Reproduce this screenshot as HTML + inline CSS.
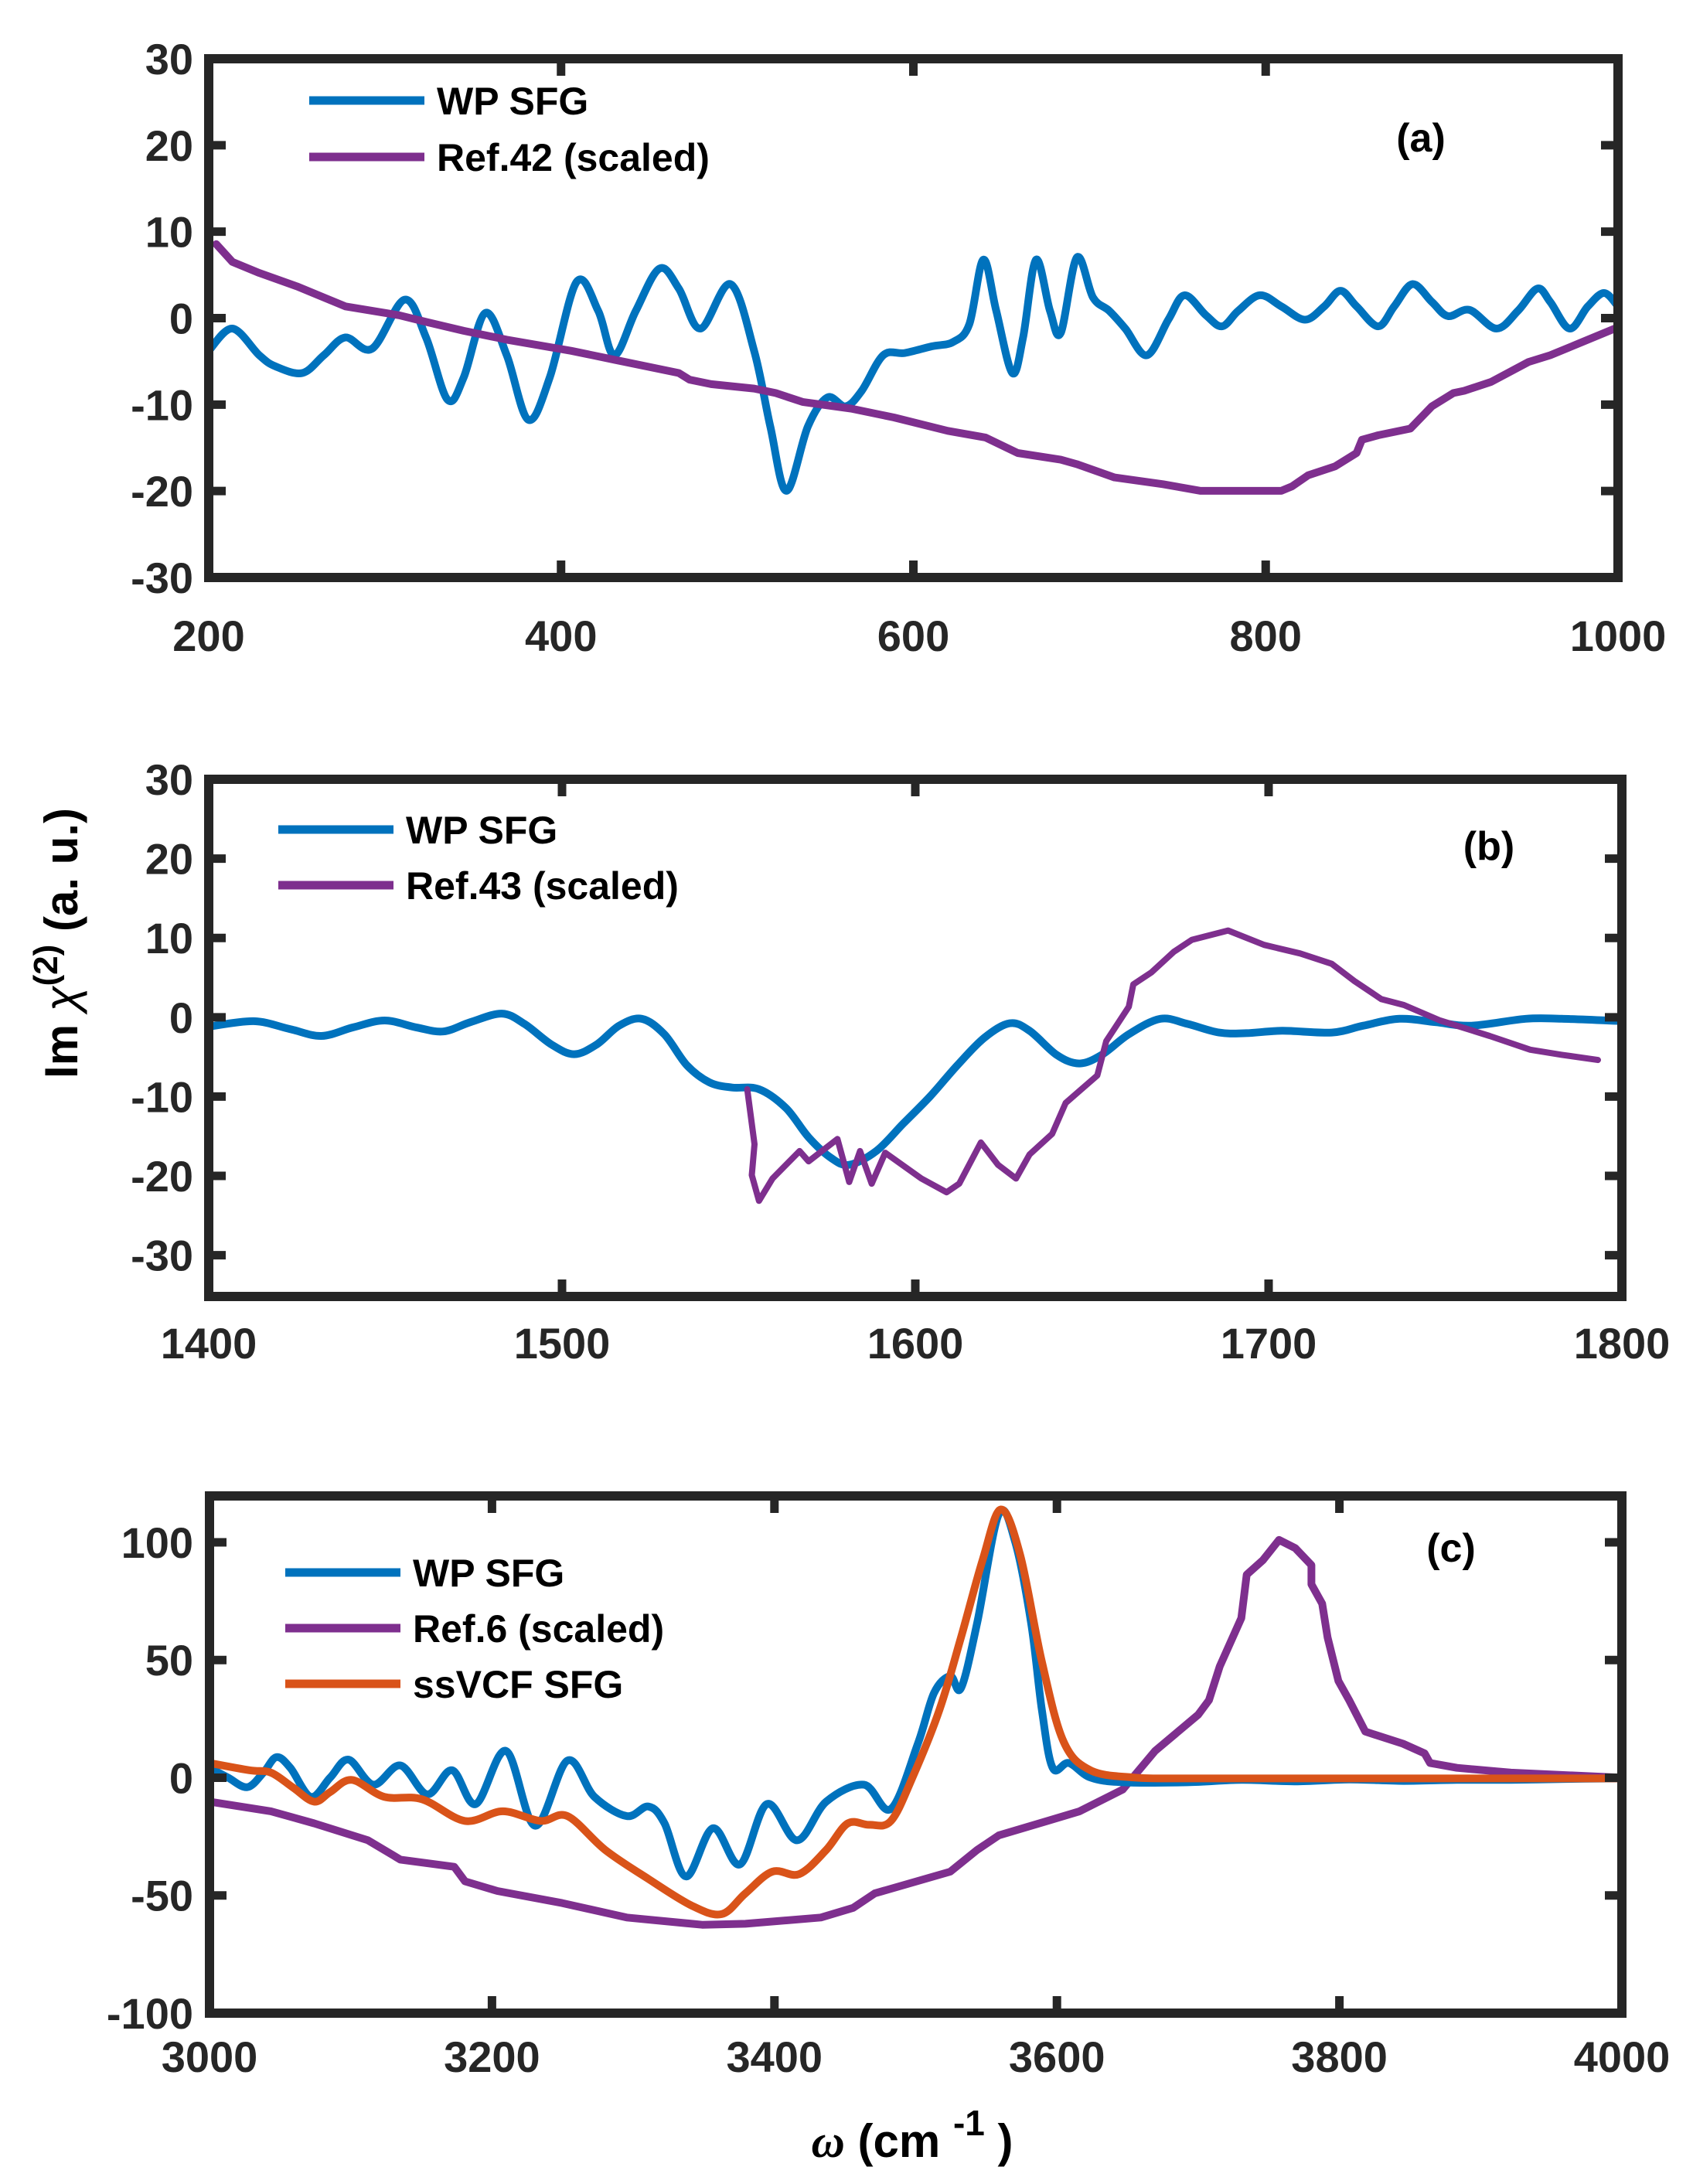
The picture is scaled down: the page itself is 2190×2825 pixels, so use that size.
<!DOCTYPE html>
<html><head><meta charset="utf-8">
<style>html,body{margin:0;padding:0;background:#fff}svg{display:block}
text{font-family:"Liberation Sans",Arial,sans-serif;font-weight:bold;fill:#262626}</style></head>
<body>
<svg id="s" width="2190" height="2825" viewBox="0 0 2190 2825" xmlns="http://www.w3.org/2000/svg">
<defs>
<clipPath id="ca"><rect x="270" y="76" width="1823" height="671"/></clipPath>
<clipPath id="cb"><rect x="270" y="1008" width="1828" height="669"/></clipPath>
<clipPath id="cc"><rect x="271" y="1935" width="1827" height="669"/></clipPath>
</defs>
<g id="g"></g>
<text x="100" y="1220" transform="rotate(-90 100 1220)" text-anchor="middle" font-size="60" style="fill:#000">Im  <tspan font-style="italic" font-weight="normal">χ</tspan><tspan dy="-26" font-size="44">(2)</tspan><tspan dy="26">  (a. u.)</tspan></text>
<text x="1180" y="2790" text-anchor="middle" font-size="60" style="fill:#000"><tspan font-style="italic" font-family="Liberation Serif">ω</tspan> (cm <tspan dy="-28" font-size="46">-1</tspan><tspan dy="28"> )</tspan></text>
</svg>
<script>
const g=document.getElementById('g');const NS="http://www.w3.org/2000/svg";
function el(t,a,txt){const e=document.createElementNS(NS,t);for(const k in a)e.setAttribute(k,a[k]);if(txt!==undefined)e.textContent=txt;g.appendChild(e);return e;}
function axes(L,T,R,B,xmin,xmax,xt,ymin,ymax,yt,labY){
 const X=v=>L+(v-xmin)/(xmax-xmin)*(R-L), Y=v=>B-(v-ymin)/(ymax-ymin)*(B-T);
 let d='';
 xt.forEach(v=>{const x=X(v);d+=`M${x},${B}V${B-22}M${x},${T}V${T+22}`;el('text',{x:x,y:labY,'text-anchor':'middle','font-size':56},String(v));});
 yt.forEach(v=>{const y=Y(v);d+=`M${L},${y}H${L+22}M${R},${y}H${R-22}`;el('text',{x:250,y:y+20,'text-anchor':'end','font-size':56},String(v));});
 el('path',{d:d,stroke:'#262626','stroke-width':11,fill:'none'});
 el('rect',{x:L,y:T,width:R-L,height:B-T,fill:'none',stroke:'#262626','stroke-width':12});
}
function line(pts,fx,fy,col,clip,w,smooth){
 const P=pts.map(p=>[fx(p[0]),fy(p[1])]);
 let d='M'+P[0][0].toFixed(1)+','+P[0][1].toFixed(1);
 for(let i=0;i<P.length-1;i++){
  if(smooth){
   const p0=P[i-1]||P[i],p1=P[i],p2=P[i+1],p3=P[i+2]||P[i+1];
   const c1=[p1[0]+(p2[0]-p0[0])/6,p1[1]+(p2[1]-p0[1])/6],c2=[p2[0]-(p3[0]-p1[0])/6,p2[1]-(p3[1]-p1[1])/6];
   d+=`C${c1[0].toFixed(1)},${c1[1].toFixed(1)} ${c2[0].toFixed(1)},${c2[1].toFixed(1)} ${p2[0].toFixed(1)},${p2[1].toFixed(1)}`;
  } else d+='L'+P[i+1][0].toFixed(1)+','+P[i+1][1].toFixed(1);
 }
 el('path',{d:d,stroke:col,'stroke-width':w||10,fill:'none','stroke-linejoin':'round','stroke-linecap':'round','clip-path':`url(#${clip})`});
}
function leg(x,ys,items){items.forEach((it,i)=>{el('path',{d:`M${x},${ys[i]}H${x+149}`,stroke:it[1],'stroke-width':11});el('text',{x:x+165,y:ys[i]+18,'font-size':50,style:'fill:#000'},it[0]);});}
const BL='#0072BD',PU='#7E2F8E',OR='#D95319';
// panel a
const ax=p=>270+(p-193)*1.3916, ay=p=>76+(p-133)*0.575;
line([[193,790],[215,740],[240,800],[255,825],[280,840],[300,800],[320,760],[345,785],[375,675],[395,760],[415,900],[430,850],[450,705],[470,800],[490,945],[510,850],[535,635],[555,700],[570,800],[590,700],[612,605],[630,650],[650,740],[678,640],[700,790],[715,960],[730,1105],[750,960],[768,895],[785,915],[800,880],[820,800],[840,795],[865,780],[885,770],[900,730],[913,585],[925,700],[940,840],[950,760],[962,585],[975,700],[985,750],[1000,580],[1015,670],[1030,700],[1045,740],[1065,800],[1085,720],[1100,665],[1120,710],[1135,735],[1150,700],[1170,665],[1190,690],[1212,720],[1230,690],[1245,655],[1260,690],[1280,735],[1295,690],[1312,640],[1330,680],[1345,712],[1365,698],[1390,740],[1410,700],[1428,650],[1440,680],[1458,740],[1475,690],[1490,660],[1503,690]],ax,ay,BL,'ca',10,true);
line([[200,550],[215,590],[240,615],[275,645],[320,690],[370,710],[395,725],[430,745],[470,765],[530,790],[570,810],[630,840],[640,855],[660,865],[700,875],[720,885],[745,905],[790,920],[830,940],[880,970],[915,985],[945,1020],[985,1035],[1000,1045],[1035,1075],[1080,1090],[1115,1105],[1190,1105],[1200,1095],[1215,1070],[1240,1050],[1260,1020],[1265,990],[1280,980],[1310,965],[1330,915],[1350,885],[1360,880],[1385,860],[1420,815],[1440,800],[1470,770],[1500,740]],ax,ay,PU,'ca',10);
axes(270,76,2093,747,200,1000,[200,400,600,800,1000],-30,30,[-30,-20,-10,0,10,20,30],842);
leg(400,[130,203],[['WP SFG',BL],['Ref.42 (scaled)',PU]]);
el('text',{x:1838,y:196,'text-anchor':'middle','font-size':52,style:'fill:#000'},'(a)');
// panel b
const bx=p=>270+p/0.857, by=p=>1000+p/2.25;
line([[0,738],[50,722],[90,745],[125,765],[160,740],[195,720],[230,740],[260,752],[290,725],[325,700],[350,730],[380,790],[405,818],[430,790],[455,735],[480,715],[505,760],[530,850],[555,900],[580,915],[610,920],[640,975],[665,1060],[690,1120],[710,1140],[740,1100],[770,1020],[800,940],[830,850],[860,770],[888,728],[910,750],[940,820],[965,845],[990,820],[1020,760],[1055,715],[1085,730],[1120,755],[1150,757],[1190,750],[1245,755],[1280,735],[1320,715],[1360,725],[1400,735],[1460,715],[1500,715],[1568,722]],bx,by,BL,'cb',10,true);
line([[597,920],[605,1080],[602,1170],[610,1245],[625,1180],[655,1100],[665,1130],[697,1065],[710,1190],[722,1100],[735,1195],[750,1105],[790,1180],[818,1220],[832,1195],[856,1075],[875,1140],[895,1180],[910,1110],[935,1050],[950,960],[985,880],[995,780],[1005,740],[1020,680],[1025,615],[1045,580],[1070,520],[1090,485],[1130,458],[1170,500],[1210,525],[1245,555],[1270,605],[1300,658],[1325,675],[1365,720],[1420,765],[1465,805],[1500,820],[1540,835]],bx,by,PU,'cb',8);
axes(270,1008,2098,1677,1400,1800,[1400,1500,1600,1700,1800],-35.2,30,[-30,-20,-10,0,10,20,30],1757);
leg(360,[1073,1145],[['WP SFG',BL],['Ref.43 (scaled)',PU]]);
el('text',{x:1926,y:1112,'text-anchor':'middle','font-size':52,style:'fill:#000'},'(b)');
// panel c
const cx=p=>271+(p-193)*1.3947, cy=p=>1995+(p-233)*0.6246;
line([[193,770],[250,790],[290,815],[340,850],[370,890],[420,905],[430,935],[460,955],[520,980],[580,1010],[650,1025],[690,1023],[760,1010],[790,990],[810,960],[880,915],[905,870],[925,840],[970,810],[1000,790],[1040,745],[1070,665],[1110,590],[1120,560],[1130,490],[1150,390],[1155,300],[1170,270],[1185,228],[1200,245],[1215,280],[1215,320],[1225,360],[1230,430],[1240,520],[1250,560],[1265,625],[1300,650],[1320,670],[1325,690],[1350,700],[1400,710],[1500,720]],cx,cy,PU,'cc',10);
line([[193,700],[210,720],[228,740],[243,710],[255,678],[268,700],[287,760],[305,720],[322,683],[345,735],[370,695],[395,755],[418,705],[440,775],[468,665],[495,820],[525,685],[550,760],[580,800],[600,780],[615,815],[635,925],[660,825],[685,900],[710,775],[738,850],[765,770],[800,735],[825,785],[850,650],[865,545],[880,510],[890,535],[905,400],[925,175],[940,230],[955,400],[965,580],[975,700],[990,690],[1010,720],[1040,730],[1100,730],[1150,725],[1200,728],[1250,724],[1300,727],[1350,725],[1400,725],[1450,723],[1500,722]],cx,cy,BL,'cc',10,true);
line([[193,690],[230,705],[250,710],[270,740],[290,770],[305,750],[325,725],[355,760],[390,765],[430,810],[465,790],[500,810],[525,800],[560,870],[600,930],[640,985],[668,1003],[690,960],[715,915],[740,920],[765,870],[785,815],[805,818],[825,810],[845,720],[870,580],[890,430],[910,270],[927,165],[945,260],[965,480],[985,645],[1010,705],[1050,720],[1090,722],[1150,722],[1250,722],[1350,722],[1450,722],[1500,722]],cx,cy,OR,'cc',10,true);
axes(271,1935,2098,2604,3000,4000,[3000,3200,3400,3600,3800,4000],-100,119.7,[-100,-50,0,50,100],2680);
leg(369,[2034,2106,2178],[['WP SFG',BL],['Ref.6 (scaled)',PU],['ssVCF SFG',OR]]);
el('text',{x:1877,y:2020,'text-anchor':'middle','font-size':52,style:'fill:#000'},'(c)');
</script>
</body></html>
